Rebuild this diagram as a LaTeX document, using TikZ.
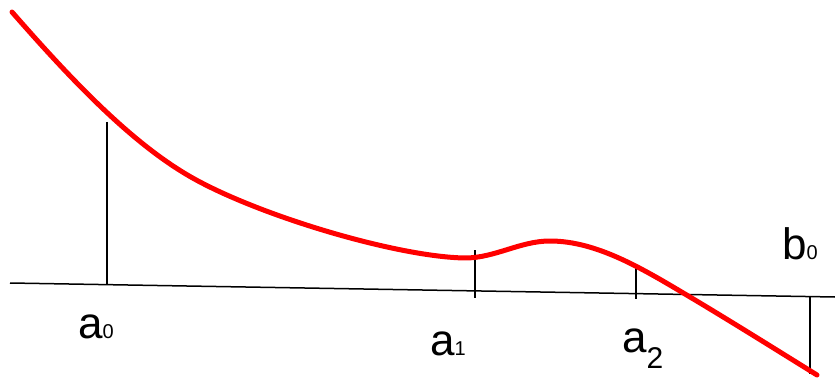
\documentclass[tikz,border=0pt]{standalone}
\usepackage{fontspec}
\setmainfont{Liberation Sans}
\begin{document}
\begin{tikzpicture}[x=1pt,y=-1pt,
  axisline/.style={black,line width=1.5pt},
  curveline/.style={red,line width=5pt,line cap=round,line join=round},
  lbl/.style={inner sep=0pt,anchor=base west,font=\fontsize{44}{44}\selectfont}]
\useasboundingbox (0,0) rectangle (835,382);
\coordinate (axL) at (10,283);
\coordinate (axR) at (835,297);
\draw[axisline] (axL) -- (axR);
\draw[axisline] (107,122) -- (107,284.6);
\draw[axisline] (475,250) -- (475,298);
\draw[axisline] (636,265) -- (636,299);
\draw[axisline] (810,297) -- (810,374);
\draw[curveline] (12,12) .. controls (75,84) and (137,149) .. (200,182)
  .. controls (270,219) and (400,257) .. (465,258)
  .. controls (495,258) and (520,241) .. (550,241)
  .. controls (597,241) and (643,269) .. (690,297)
  .. controls (732,322) and (775,349) .. (817,375);
\node[lbl] (a0) at (78,338) {a{\fontsize{20}{20}\selectfont 0}};
\node[lbl] (a1) at (430,355) {a{\fontsize{20}{20}\selectfont 1}};
\node[lbl] (a2) at (622,352) {a\raisebox{-16pt}{\fontsize{30}{30}\selectfont 2}};
\node[lbl] (b0) at (782,259) {b{\fontsize{20}{20}\selectfont 0}};
\end{tikzpicture}
\end{document}
